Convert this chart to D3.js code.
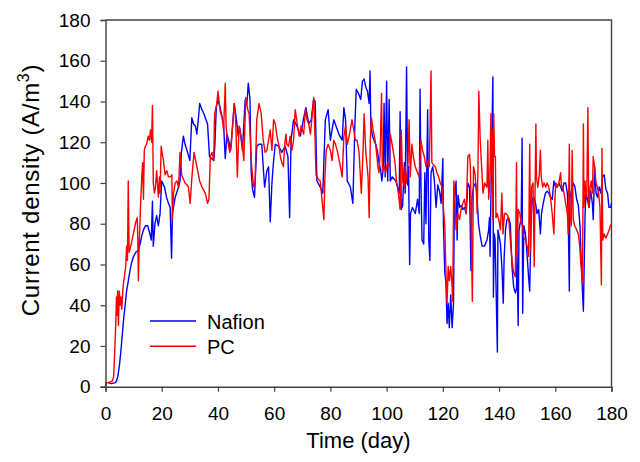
<!DOCTYPE html>
<html>
<head>
<meta charset="utf-8">
<script src="https://cdn.jsdelivr.net/npm/d3@7"></script>
<style>
  body { margin: 0; background: #fff; overflow: hidden; }
  svg { display: block; }
  text { font-family: Arial, "Liberation Sans", sans-serif; fill: #000; }
</style>
</head>
<body>
<svg width="640" height="462"></svg>
<script>
// Nafion series (day, current density)
const nafionDay = [0,1,2,3.5,4,4.5,5,5.5,6,6.5,7,7.5,8,8.7,9.3,10,10.8,11.7,12.3,12.9,13.5,14.2,15,15.8,16.3,16.7,17,17.6,18.2,18.8,19.4,20,21,21.7,22.4,23,23.5,23.8,24.8,25.5,26,26.5,27,27.7,28.3,29,30,30.7,31.3,32,32.5,33,33.5,34.3,35,35.5,36.3,37,37.7,38.5,38.9,39.4,40,40.8,41.5,42,42.6,43.2,43.8,44.5,45.8,46.6,47.2,47.8,48.7,49.7,50.3,50.8,51.4,51.8,52.3,53,53.8,54.6,55.6,56.2,56.6,57.4,58,58.6,59.2,59.8,60.4,61.6,62.7,63.9,64.9,65.5,66,66.9,68.1,69.3,70.5,71.3,72.3,73.2,74,74.6,75.2,76.4,77.3,78.2,79.2,80,81.2,82,83,84.2,84.8,85.4,86,87.1,88,88.7,89.2,90,90.8,91.4,92,92.6,93.2,93.8,94.1,94.4,95,95.5,96.1,96.7,97.3,97.9,98.3,98.8,99.1,99.5,100,100.4,100.9,101.3,102,103.3,103.9,104.5,104.8,105.2,105.7,106.3,106.6,107.1,107.5,107.8,108.2,108.5,109.2,110.2,111,111.6,111.9,112.2,112.6,113.2,113.6,114,114.6,115,115.4,115.8,116.4,117,117.6,118.2,118.8,119.4,120,120.2,120.7,121.1,121.5,121.9,122.3,122.8,123.3,123.8,124.1,124.7,125.1,125.4,126,126.5,127.1,127.7,128.3,128.9,129.5,130,130.4,130.9,131.6,132.1,132.7,133.3,134,134.8,135.7,136.3,136.6,136.8,137.1,137.8,138,138.3,138.6,139.4,139.6,140,140.5,141,141.5,141.8,142.3,142.8,143.4,144,144.6,145.2,145.8,146.2,146.4,146.8,147.1,147.6,147.9,148.2,148.4,148.8,149.4,150,150.6,150.9,151.4,151.8,152.4,153,153.5,154.1,154.7,155.1,155.7,156.5,157.1,157.7,158.3,158.9,159.5,160.1,160.7,161.3,161.9,162.5,163.1,163.7,164.3,164.6,165,165.2,165.7,166.4,167,167.6,168.2,168.8,169.3,169.7,170,170.2,170.6,170.9,171.4,172,172.6,173.2,173.5,174,174.5,175,175.6,176.2,176.8,177.4,178,178.6,179.1,179.7,180];
const nafionVal = [2,2,1.5,2,3,6,11,18,26,34,40,47,51,57,61,64,66,67,70,74,77,79,79,75,72,91,69,80,84,79,85,101,98,93,90,88,63,85,93,96,98,101,115,123,119,116,111,132,129,128,124,131,139,136,134,132,129,113,112,111,118,137,141,137,132,129,112,124,121,116,139,131,123,127,116,141,139,149,141,106,97,93,118,119,119,106,98,106,108,81,100,111,119,118,115,118,113,83,121,131,128,123,132,137,129,131,141,140,101,98,95,131,136,121,131,128,124,121,137,131,101,98,90,128,146,144,141,150,151,147,145,139,155,128,123,121,119,116,110,106,101,107,139,103,150,101,141,101,103,101,98,95,135,87,89,110,95,157,99,108,60,85,88,85,92,85,146,100,72,70,105,80,136,72,62,105,108,101,88,99,96,90,112,80,56,51,31,41,29,45,29,41,92,101,72,94,88,89,87,88,85,100,98,57,93,98,100,95,80,74,69,69,72,77,83,64,93,152,44,75,72,17,77,74,70,59,41,63,77,82,83,80,59,49,46,48,66,30,77,81,85,122,36,79,75,64,52,47,82,92,93,90,85,87,75,85,90,95,96,95,93,92,101,98,98,100,98,96,100,100,95,85,47,92,96,100,98,92,89,79,59,46,37,53,85,95,92,88,96,90,82,108,95,93,98,95,103,104,97,95,88,88,90];

// PC series (day, current density)
const pcDay = [0,0.3,1,2,2.5,2.9,3.3,3.6,3.9,4.1,4.3,4.6,4.9,5.2,5.5,5.8,6.2,6.5,6.9,7.2,7.5,7.8,8.1,8.4,8.8,9.3,9.9,10.5,10.8,11.3,11.5,11.7,12,12.5,12.9,13.2,13.5,13.8,14.2,14.6,15.2,15.6,16,16.4,16.7,17,17.4,17.7,18.2,18.8,19.2,19.4,19.8,20.6,21.2,21.8,22.4,23,23.6,23.8,24.2,24.8,25.4,26,26.5,27.1,27.7,28.3,29,29.5,30.1,30.8,31.5,32.5,33.5,34.3,35.5,36.3,36.8,37.3,37.9,38.5,38.8,39.6,40,40.8,41.5,42,42.6,42.9,43.2,44.2,44.7,45.8,46.3,46.9,47.5,48.5,49.2,49.9,50.6,51.1,51.6,52,52.7,53.2,53.8,54.6,55.4,56.1,56.8,57.4,58,58.6,59.2,59.8,60.4,61,61.6,62.2,62.7,63.3,63.7,64.2,64.5,65.1,65.7,66.3,66.9,67.5,68.2,68.9,69.6,70.5,71.1,71.7,72.3,72.9,73.5,74.1,74.4,74.9,75.6,76.4,77,77.7,78,78.5,79.2,80,80.6,81.2,81.8,82.4,83.3,84.2,84.8,85.4,86,86.8,87.7,88.3,88.9,89.5,90.2,91,91.6,92,92.6,93.4,93.8,94.2,94.6,95.2,95.9,96.4,96.9,97.3,97.7,98.2,98.5,99.1,99.7,100.3,100.9,101.3,101.7,102.3,103,103.5,104.2,104.8,105.2,105.7,106.3,106.6,107.1,107.6,108,108.4,109,109.5,110.2,111,111.6,112.2,112.8,113.4,114,114.6,115.2,115.8,116.1,116.6,117.3,117.9,118.5,119.1,119.7,120.2,120.7,121.1,121.5,121.9,122.3,122.8,123.3,123.5,123.9,124.2,124.7,125.3,125.9,126.5,127.1,127.7,128.3,128.9,129.5,129.8,130.2,130.5,130.9,131.4,131.9,132.2,132.5,132.8,133.3,133.8,134.3,134.9,135.7,136,136.3,136.7,137.1,137.3,137.6,137.8,138.1,138.4,138.7,138.9,139.3,139.9,140.5,141,141.4,141.9,142.4,143.1,143.6,144,144.6,145.2,145.8,146.2,146.4,146.8,147.4,147.8,148.3,148.8,149.4,150,150.5,150.9,151.2,151.6,152.1,152.5,152.8,153.1,153.3,153.8,154.3,154.7,155,155.5,156,156.6,157.1,157.7,158.3,158.9,159.5,159.9,160.2,160.7,161.3,161.9,162.2,162.7,163.1,163.7,164.3,164.6,165,165.2,165.7,166,166.4,166.9,167.6,168.2,168.7,169,169.4,169.7,170,170.2,170.6,170.8,171.2,171.6,171.9,172.4,172.8,173.2,173.5,173.8,174.2,174.5,175,175.4,175.9,176.4,176.6,176.9,177.4,178,178.6,179.2,179.6,180];
const pcVal = [0,2,2,2.5,3,5,18,29,44,35,47,30,47,40,44,38,48,52,56,59,69,62,101,66,68,71,75,79,81,83,72,52,70,90,103,110,92,116,118,119,123,121,126,120,138,100,95,97,106,93,103,95,118,111,104,106,103,103,104,82,95,100,101,98,115,104,102,100,99,98,90,104,115,108,101,98,95,90,92,113,115,111,134,139,145,135,132,126,149,128,123,115,118,139,131,103,128,121,111,142,136,134,118,108,98,100,131,139,134,121,115,116,121,126,116,131,129,123,119,113,110,108,118,124,119,118,123,116,121,136,129,123,128,124,136,131,129,124,133,142,128,104,102,101,92,82,101,116,119,116,111,121,119,116,110,103,123,128,119,124,131,126,121,121,115,95,115,134,115,103,83,121,132,126,121,115,108,105,115,144,106,108,105,110,108,124,121,116,110,101,95,87,126,101,98,108,100,110,131,103,119,113,108,105,103,121,116,113,108,111,108,155,110,109,108,105,103,100,98,88,79,56,41,59,52,59,49,42,101,95,77,85,82,87,90,92,85,113,114,108,69,42,108,105,97,85,108,145,121,108,95,100,98,121,92,100,134,104,126,82,134,113,113,83,85,82,77,95,75,85,85,84,80,72,62,56,54,110,64,87,85,81,79,73,72,69,64,119,66,98,100,59,95,129,103,98,104,116,103,98,100,98,100,98,93,85,75,93,100,98,100,105,98,98,95,90,85,75,119,85,79,116,82,79,77,75,69,62,56,51,129,88,101,96,93,137,88,98,101,95,113,110,105,100,98,95,88,50,117,72,75,73,75,77,79,80];

const xTicks = [0, 20, 40, 60, 80, 100, 120, 140, 160, 180];
const yTicks = [0, 20, 40, 60, 80, 100, 120, 140, 160, 180];
const seriesNames = ['Nafion', 'PC'];
const seriesColors = ['#0000ff', '#ff0000'];

const svg = d3.select("svg");
const width = +svg.attr("width");
const height = +svg.attr("height");
const margin = { top: 20, right: 28.5, bottom: 75.3, left: 105.5 };
const innerWidth = width - margin.left - margin.right;
const innerHeight = height - margin.top - margin.bottom;

const xScale = d3.scaleLinear().domain([0, 180]).range([0, innerWidth]);
const yScale = d3.scaleLinear().domain([0, 180]).range([innerHeight, 0]);

const g = svg.append('g')
    .attr('transform', `translate(${margin.left}, ${margin.top})`);

// frame (top + right)
g.append('path')
    .attr('d', `M0,0H${innerWidth}V${innerHeight}`)
    .attr('fill', 'none')
    .attr('stroke', '#404040')
    .attr('stroke-width', 1.4);

const series = [
    { days: nafionDay, vals: nafionVal },
    { days: pcDay, vals: pcVal }
];

const line = d3.line()
    .x(d => xScale(d[0]))
    .y(d => yScale(d[1]));

series.forEach((s, i) => {
    g.append('path')
        .datum(s.days.map((d, j) => [d, s.vals[j]]))
        .attr('fill', 'none')
        .attr('stroke', seriesColors[i])
        .attr('stroke-width', 1.4)
        .attr('stroke-linejoin', 'round')
        .attr('d', line);
});

const xAxisG = g.append('g')
    .attr('transform', `translate(0, ${innerHeight})`)
    .call(d3.axisBottom(xScale).tickValues(xTicks).tickSize(5));
xAxisG.selectAll('.tick text').attr('dy', null).attr('y', 33.5);

const yAxisG = g.append('g')
    .call(d3.axisLeft(yScale).tickValues(yTicks).tickSize(5).tickPadding(10));

[xAxisG, yAxisG].forEach(a => {
    a.selectAll('.domain').attr('stroke', '#404040').attr('stroke-width', 1.4);
    a.selectAll('.tick line').attr('stroke', '#404040').attr('stroke-width', 1.2);
    a.selectAll('.tick text')
        .style('font-family', 'Arial, "Liberation Sans", sans-serif')
        .style('font-size', '19px')
        .attr('fill', '#000');
});

// axis titles
svg.append('text')
    .attr('x', margin.left + innerWidth / 2)
    .attr('y', 448)
    .attr('text-anchor', 'middle')
    .style('font-size', '22px')
    .text('Time (day)');

const yTitle = svg.append('text')
    .attr('transform', `translate(39, 190) rotate(-90)`)
    .attr('text-anchor', 'middle')
    .style('font-size', '24px')
    .style('letter-spacing', '0.7px');
yTitle.append('tspan').text('Current density (A/m');
yTitle.append('tspan').attr('dy', -10).style('font-size', '16px').text('3');
yTitle.append('tspan').attr('dy', 10).text(')');

// legend
const legend = g.append('g').attr('transform', `translate(${150 - margin.left}, ${321 - margin.top})`);
seriesNames.forEach((name, i) => {
    const row = legend.append('g').attr('transform', `translate(0, ${i * 25.3})`);
    row.append('line')
        .attr('x1', 0).attr('x2', 46)
        .attr('stroke', seriesColors[i])
        .attr('stroke-width', 1.4);
    row.append('text')
        .attr('x', 57)
        .attr('y', 7.5)
        .style('font-size', '20px')
        .text(name);
});
</script>
</body>
</html>
